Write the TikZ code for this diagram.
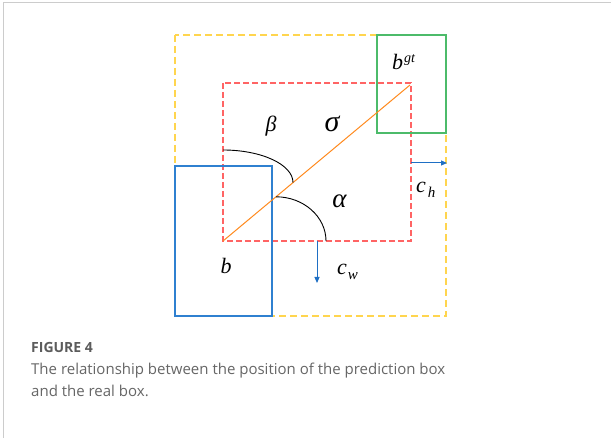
\documentclass[tikz,border=0pt]{standalone}
\usepackage{fontspec}
\setmainfont{Liberation Serif}
\newfontfamily\capfont{Open Sans}
\usetikzlibrary{arrows.meta}
\definecolor{ygold}{HTML}{FFD54F}
\definecolor{rdash}{HTML}{FF6464}
\definecolor{gbox}{HTML}{4CBB6A}
\definecolor{bbox}{HTML}{2F80D0}
\definecolor{oline}{HTML}{FF8A1E}
\definecolor{abl}{HTML}{1E6FC4}
\definecolor{frameg}{HTML}{CCCCCC}
\definecolor{capg}{HTML}{666666}
\tikzset{
  yellowbox/.style={draw=ygold, line width=1.3pt, dash pattern=on 7pt off 4pt},
  redbox/.style={draw=rdash, line width=1.1pt, dash pattern=on 6pt off 3pt},
  solidbox/.style={line width=1.05pt},
  blarrow/.style={draw=abl, line width=1pt, -{Triangle[length=6pt,width=5pt]}},
  arcline/.style={draw=black, line width=0.9pt},
  lbl/.style={inner sep=0pt, font=\fontsize{22}{24}\selectfont\itshape},
  greek/.style={inner sep=0pt, font=\fontsize{22}{24}\selectfont\itshape},
  captxt/.style={inner sep=0pt, anchor=base west, text=capg, font=\capfont\fontsize{15}{17}\selectfont}
}
\begin{document}
\begin{tikzpicture}[x=1pt,y=-1pt]
\useasboundingbox (0,0) rectangle (611,438);
\fill[white] (0,0) rectangle (611,438);
% frame
\draw[frameg, line width=1.5pt] (3.5,2.5) -- (611,2.5);
\draw[frameg, line width=1.5pt] (3.5,2.5) -- (3.5,438);
% coordinates
\coordinate (yTL) at (175,35);  \coordinate (yBR) at (446,316);
\coordinate (rTL) at (223,83);  \coordinate (rBR) at (411,241);
\coordinate (gTL) at (377,35);  \coordinate (gBR) at (446,133);
\coordinate (bTL) at (175,166); \coordinate (bBR) at (272,316);
\coordinate (oA) at (223,241);  \coordinate (oB) at (410,85);
% boxes
\draw[yellowbox] (yTL) rectangle (yBR);
\draw[redbox] (rTL) rectangle (rBR);
\draw[solidbox, draw=gbox] (gTL) rectangle (gBR);
\draw[solidbox, draw=bbox] (bTL) rectangle (bBR);
\draw[oline, line width=1pt] (oA) -- (oB);
% arcs
\coordinate (be1) at (223,150); \coordinate (be2) at (293,182.6);
\draw[arcline] (be1) .. controls (261.7,150) and (293,164.6) .. (be2);
\coordinate (al1) at (276,196.8); \coordinate (al2) at (326,241);
\draw[arcline] (al1) .. controls (303.6,196.8) and (326,216.7) .. (al2);
% arrows
\coordinate (cw1) at (317,241); \coordinate (cw2) at (317,283);
\draw[blarrow] (cw1) -- (cw2);
\coordinate (ch1) at (411,163); \coordinate (ch2) at (447,163);
\draw[blarrow] (ch1) -- (ch2);
% labels
\node[greek] (beta) at (271,126.5) {β};
\node[greek, font=\fontsize{30}{32}\selectfont\itshape] (sigma) at (332,124) {σ};
\node[greek, font=\fontsize{27}{29}\selectfont\itshape] (alpha) at (339.5,201) {α};
\node[lbl, anchor=base] (b) at (226,274) {b};
\node[lbl, anchor=base west] (bgt) at (392,70) {b\hspace{1pt}\raisebox{7pt}{\fontsize{14}{15}\selectfont\itshape gt}};
\node[lbl, anchor=base west] (cw) at (337,275) {c\hspace{1pt}\raisebox{-5pt}{\fontsize{15}{16}\selectfont\itshape w}};
\node[lbl, anchor=base west] (ch) at (416,193) {c\hspace{2pt}\raisebox{-5pt}{\fontsize{15}{16}\selectfont\itshape h}};
% caption
\node[captxt, font=\capfont\bfseries\fontsize{14}{16}\selectfont, text=capg!90!black] (fig) at (31,353) {FIGURE 4};
\node[captxt] (cap1) at (31,375) {The relationship between the position of the prediction box};
\node[captxt] (cap2) at (31,397) {and the real box.};
\end{tikzpicture}
\end{document}
